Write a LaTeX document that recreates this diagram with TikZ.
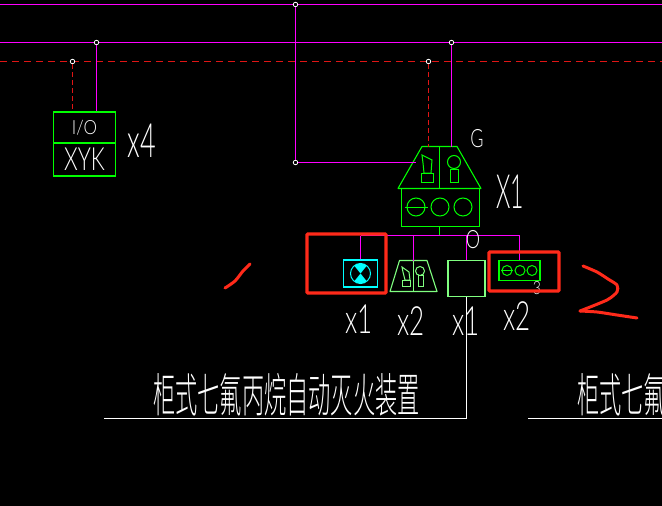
\documentclass[tikz,border=0pt]{standalone}
\usepackage{fontspec}
\setmainfont{Lato Light}
\newfontfamily\cjk{Noto Sans CJK SC Light}
\newcommand\tallt[3]{\scalebox{1}[#2]{\fontsize{#1}{#1}\selectfont #3}}
\definecolor{mag}{HTML}{FF00FF}
\definecolor{grn}{HTML}{00FF00}
\definecolor{lgrn}{HTML}{80FF80}
\definecolor{cyn}{HTML}{00FFFF}
\definecolor{redm}{HTML}{FF2A1A}
\definecolor{dred}{HTML}{E01515}
\tikzset{
  magline/.style={draw=mag,line width=1pt},
  grnline/.style={draw=grn,line width=1.1pt},
  thingrn/.style={draw=grn,line width=1pt},
  lgline/.style={draw=lgrn,line width=1.1pt},
  thinlg/.style={draw=lgrn,line width=1pt},
  redbox/.style={draw=redm,line width=3.4pt,rounded corners=1pt},
  dashred/.style={draw=dred,line width=1.1pt,dash pattern=on 5pt off 3pt},
  dashrail/.style={draw=dred,line width=1pt,dash pattern=on 7pt off 5pt},
  wline/.style={draw=white,line width=1.1pt},
  scribble/.style={draw=redm,line width=3pt,line cap=round,line join=round},
  pin/.style={circle,draw=white,line width=0.8pt,inner sep=0pt,minimum size=4.5pt,fill=black},
  lab/.style={text=white,inner sep=0pt},
  title/.style={text=white,inner sep=0pt,anchor=west}
}
\begin{document}
\begin{tikzpicture}[x=1pt,y=-1pt]
\fill[black] (0,0) rectangle (662,506);
\useasboundingbox (0,0) rectangle (662,506);
% rails
\coordinate (r1l) at (0,4.5); \coordinate (r1r) at (662,4.5);
\coordinate (r2l) at (0,42.5); \coordinate (r2r) at (662,42.5);
\coordinate (r3l) at (0,61.5); \coordinate (r3r) at (662,61.5);
\draw[magline] (r1l) -- (r1r);
\draw[magline] (r2l) -- (r2r);
\draw[dashrail] (r3l) -- (r3r);
% pins
\node[pin] (p1) at (295.5,4.5) {};
\node[pin] (p2) at (295.5,162.5) {};
\node[pin] (p3) at (96.5,42.5) {};
\node[pin] (p4) at (72.5,61.5) {};
\node[pin] (p5) at (428.5,61.5) {};
\node[pin] (p6) at (451.5,42.5) {};
% XYK
\node[draw=grn,line width=1.1pt,minimum width=62pt,minimum height=31pt,inner sep=0pt,text=white] (io) at (84.5,127.5) {\tallt{17}{1.15}{I/O}};
\node[draw=grn,line width=1.1pt,minimum width=62pt,minimum height=33pt,inner sep=0pt,text=white] (xyk) at (84.5,159.5) {\tallt{22}{1.45}{XYK}};
\draw[magline] (p3) -- (p3 |- io.north);
\draw[dashred] (p4) -- (p4 |- io.north);
\node[lab] (x4) at (142,141) {\tallt{27}{1.75}{x4}};
% house
\coordinate (ht) at (439.5,146.5);
\coordinate (hb) at (439.5,188.5);
\draw[grnline,line join=round] (422,146.5) -- (457,146.5) -- (481,188.5) -- (398,188.5) -- cycle;
\draw[grnline] (ht) -- (hb);
\draw[grnline] (401.5,188.5) rectangle (479.5,226.5);
\coordinate (hbot) at (439.5,226.5);
\coordinate (bus) at (439.5,235.5);
\draw[thingrn] (416,207) circle (9) (440,207) circle (9) (463,207) circle (9);
\draw[thingrn] (405,207) -- (428,207);
\draw[thingrn] (422,155) -- (432,160) -- (431,173) -- (424,173) -- (423,163) -- cycle;
\draw[thingrn] (421,173) rectangle (433,182);
\draw[thingrn] (454,162) circle (6.5);
\draw[thingrn] (450,169) rectangle (458,182);
\draw[magline] (p6) -- (p6 |- ht);
\draw[dashred] (p5) -- (p5 |- ht);
\draw[magline] (p1) -- (p2) -- (416,162.5);
\draw[grnline] (hbot) -- (bus);
\draw[magline] (360.5,235.5) -- (519.5,235.5);
\node[lab] (gl) at (477,139) {\tallt{18}{1.4}{G}};
\node[lab] (x1a) at (510,192) {\tallt{23}{2.05}{X1}};
\node[lab] (ol) at (473,240) {\tallt{18}{1.4}{O}};
% cyan unit
\node[draw=cyn,line width=1.1pt,minimum width=34pt,minimum height=27pt,inner sep=0pt] (cy) at (360.5,273.5) {};
\begin{scope}
\clip (cy.center) circle (10);
\fill[cyn] (cy.center) -- (344.5,253.5) -- (376.5,253.5) -- cycle;
\fill[cyn] (cy.center) -- (344.5,293.5) -- (376.5,293.5) -- cycle;
\end{scope}
\draw[cyn,line width=1pt] (cy.center) circle (10);
\draw[magline] (cy.north |- bus) -- (cy.north);
% trapezoid
\draw[lgline,line join=round] (399.5,260.5) -- (427,260.5) -- (437,291.5) -- (390,291.5) -- cycle;
\draw[lgline] (413.5,260.5) -- (413.5,291.5);
\draw[thinlg] (402,267) -- (409,272) -- (410,280) -- (405,280) -- (403,272) -- cycle;
\draw[thinlg] (402,280) rectangle (410,286);
\draw[thinlg] (420,271) circle (4.5);
\draw[thinlg] (418,275.5) rectangle (423,286);
\draw[magline] (413.5,235.5) -- (413.5,260.5);
% square
\node[draw=lgrn,line width=1.1pt,minimum width=37pt,minimum height=36pt,inner sep=0pt] (sq) at (466.5,278.5) {};
\draw[magline] (sq.north |- bus) -- (sq.north);
% small unit
\node[draw=grn,line width=1.1pt,minimum width=41pt,minimum height=20pt,inner sep=0pt] (su) at (519.5,270.5) {};
\draw[thingrn] (507,270.5) circle (5) (520,270.5) circle (5) (532,270.5) circle (5);
\draw[thingrn] (501,270.5) -- (513,270.5);
\draw[magline] (su.north |- bus) -- (su.north);
% feed
\coordinate (fl) at (104,418.5);
\coordinate (fc) at (466.5,418.5);
\coordinate (fl2) at (528,418.5);
\coordinate (fr2) at (662,418.5);
\draw[wline] (sq.south) -- (fc) -- (fl);
\draw[wline] (fl2) -- (fr2);
% small label under the box edge
\node[lab] (s3) at (537,288) {\tallt{14}{1.3}{3}};
% boxes
\draw[redbox] (307,234) rectangle (386,293);
\draw[redbox] (489,252) rectangle (559,291);
% labels
\node[lab] (c1) at (359,319) {\tallt{26}{1.55}{x1}};
\node[lab] (c2) at (411,321) {\tallt{26}{1.55}{x2}};
\node[lab] (c3) at (466,321) {\tallt{26}{1.55}{x1}};
\node[lab] (c4) at (517,316) {\tallt{26}{1.55}{x2}};
% titles
\node[title] (t1) at (153,395) {\scalebox{1}[2.1]{\fontsize{22.2}{22.2}\cjk 柜式七氟丙烷自动灭火装置}};
\node[title] (t2) at (577,395) {\scalebox{1}[2.1]{\fontsize{22.2}{22.2}\cjk 柜式七氟}};
% scribbles
\draw[scribble] plot[smooth] coordinates {(225,288) (235,281) (243,271) (250,264)};
\draw[scribble] plot[smooth,tension=0.4] coordinates {(583,266) (597,272) (608,279) (617,285) (617,292) (607,300) (580,311)};
\draw[scribble] plot[smooth,tension=0.4] coordinates {(580,311) (597,312) (617,315) (637,318)};
\end{tikzpicture}
\end{document}
